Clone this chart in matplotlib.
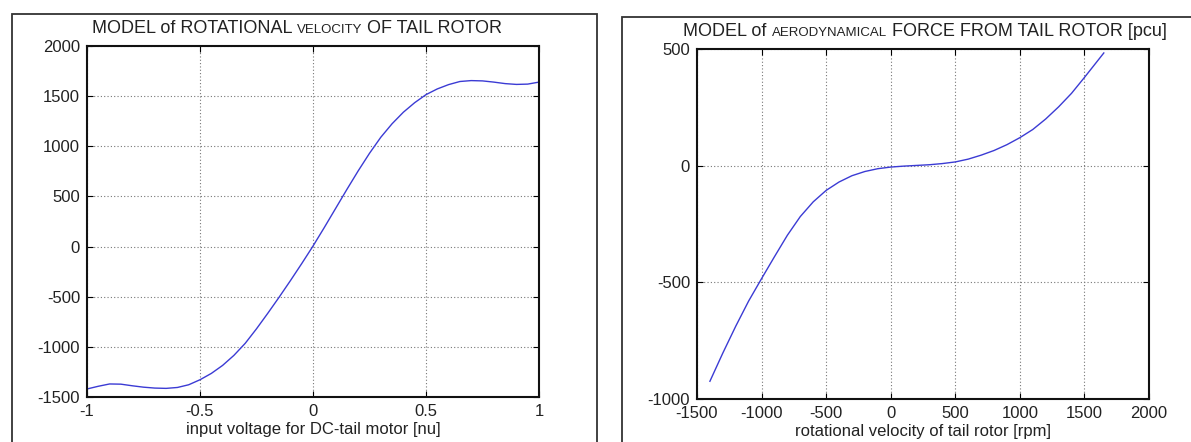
import matplotlib
matplotlib.use("Agg")
import matplotlib.pyplot as plt
from matplotlib.patches import Rectangle
from matplotlib.offsetbox import TextArea, HPacker, AnchoredOffsetbox

plt.rcParams['font.family'] = ['Liberation Sans', 'DejaVu Sans']
plt.rcParams['axes.unicode_minus'] = False

# ---- data: left panel (rotational velocity vs input voltage)
volt = [-1.0, -0.95, -0.9, -0.85, -0.8, -0.75, -0.7, -0.65, -0.6, -0.55, -0.5, -0.45,
        -0.4, -0.35, -0.3, -0.25, -0.2, -0.15, -0.1, -0.05, 0.0, 0.05, 0.1, 0.15,
        0.2, 0.25, 0.3, 0.35, 0.4, 0.45, 0.5, 0.55, 0.6, 0.65, 0.7, 0.75, 0.8,
        0.85, 0.9, 0.95, 1.0]
rpm = [-1420, -1393, -1370, -1372, -1388, -1402, -1411, -1414, -1405, -1378, -1328, -1265,
       -1185, -1085, -965, -820, -665, -505, -340, -170, 5, 190, 380, 570,
       755, 930, 1090, 1225, 1340, 1435, 1515, 1572, 1615, 1646, 1655, 1652, 1640,
       1625, 1617, 1620, 1640]

# ---- data: right panel (aerodynamic force vs rotational velocity)
vel = [-1400, -1300, -1200, -1100, -1000, -900, -800, -700, -600, -500, -400, -300,
       -200, -100, 0, 100, 200, 300, 400, 500, 600, 700, 800, 900, 1000, 1100,
       1200, 1300, 1400, 1500, 1600, 1650]
force = [-924, -803, -688, -580, -484, -390, -298, -218, -155, -106, -70, -43,
         -25, -13, -6, -2, 1, 4, 9, 16, 28, 45, 65, 90, 120, 155,
         200, 252, 310, 378, 448, 483]

left_xticks = [-1, -0.5, 0, 0.5, 1]
left_xticklabels = ['-1', '-0.5', '0', '0.5', '1']
left_yticks = [-1500, -1000, -500, 0, 500, 1000, 1500, 2000]
right_xticks = [-1500, -1000, -500, 0, 500, 1000, 1500, 2000]
right_yticks = [-1000, -500, 0, 500]

W, H = 1191, 442
fig = plt.figure(figsize=(W / 100, H / 100), dpi=100)
fig.patch.set_facecolor('white')

def px_rect(x0, y0top, x1, y1bottom):
    return [x0 / W, 1 - y1bottom / H, (x1 - x0) / W, (y1bottom - y0top) / H]

# outer frames
for (x0, y0, x1) in [(12, 14, 597), (622, 17, 1200)]:
    fig.patches.append(Rectangle((x0 / W, -0.1), (x1 - x0) / W, 1.1 - y0 / H,
                                 transform=fig.transFigure, fill=False,
                                 edgecolor='#333333', linewidth=1.3, zorder=0))

line_color = '#3b3bd4'
tick_color = '#222222'

def style_axes(ax):
    ax.grid(True, color='#777777', linestyle=(0, (1, 2)), linewidth=0.8)
    ax.tick_params(direction='in', length=4, width=0.8, top=True, right=True,
                   labelsize=12, colors='black', labelcolor=tick_color, pad=5)
    for s in ax.spines.values():
        s.set_linewidth(1.5)
        s.set_color('#111111')

ax1 = fig.add_axes(px_rect(87, 46, 539, 397))
ax1.plot(volt, rpm, color=line_color, linewidth=1.0)
ax1.set_xlim(-1, 1)
ax1.set_ylim(-1500, 2000)
ax1.set_xticks(left_xticks)
ax1.set_xticklabels(left_xticklabels)
ax1.set_yticks(left_yticks)
style_axes(ax1)
ax1.set_xlabel('input voltage for DC-tail motor [nu]', fontsize=12, color=tick_color, labelpad=2)

ax2 = fig.add_axes(px_rect(697, 49, 1149, 399))
ax2.plot(vel, force, color=line_color, linewidth=1.0)
ax2.set_xlim(-1500, 2000)
ax2.set_ylim(-1000, 500)
ax2.set_xticks(right_xticks)
ax2.set_yticks(right_yticks)
style_axes(ax2)
ax2.set_xlabel('rotational velocity of tail rotor [rpm]', fontsize=12, color=tick_color, labelpad=2)

def small_caps_title(parts, xc, ybase):
    boxes = []
    for txt, size in parts:
        boxes.append(TextArea(txt, textprops=dict(fontsize=size, color=tick_color)))
    pack = HPacker(children=boxes, align='baseline', pad=0, sep=0)
    ab = AnchoredOffsetbox(loc='lower center', child=pack, pad=0, borderpad=0,
                           frameon=False, bbox_to_anchor=(xc / W, 1 - ybase / H),
                           bbox_transform=fig.transFigure)
    fig.add_artist(ab)

small_caps_title([('MODEL of ROTATIONAL ', 13), ('VELOCITY', 9.5), (' OF TAIL ROTOR', 13)], 297, 37)
small_caps_title([('MODEL of ', 13), ('AERODYNAMICAL', 9.5), (' FORCE FROM TAIL ROTOR [pcu]', 13)], 925, 40)

fig.savefig('out.png', dpi=100)
